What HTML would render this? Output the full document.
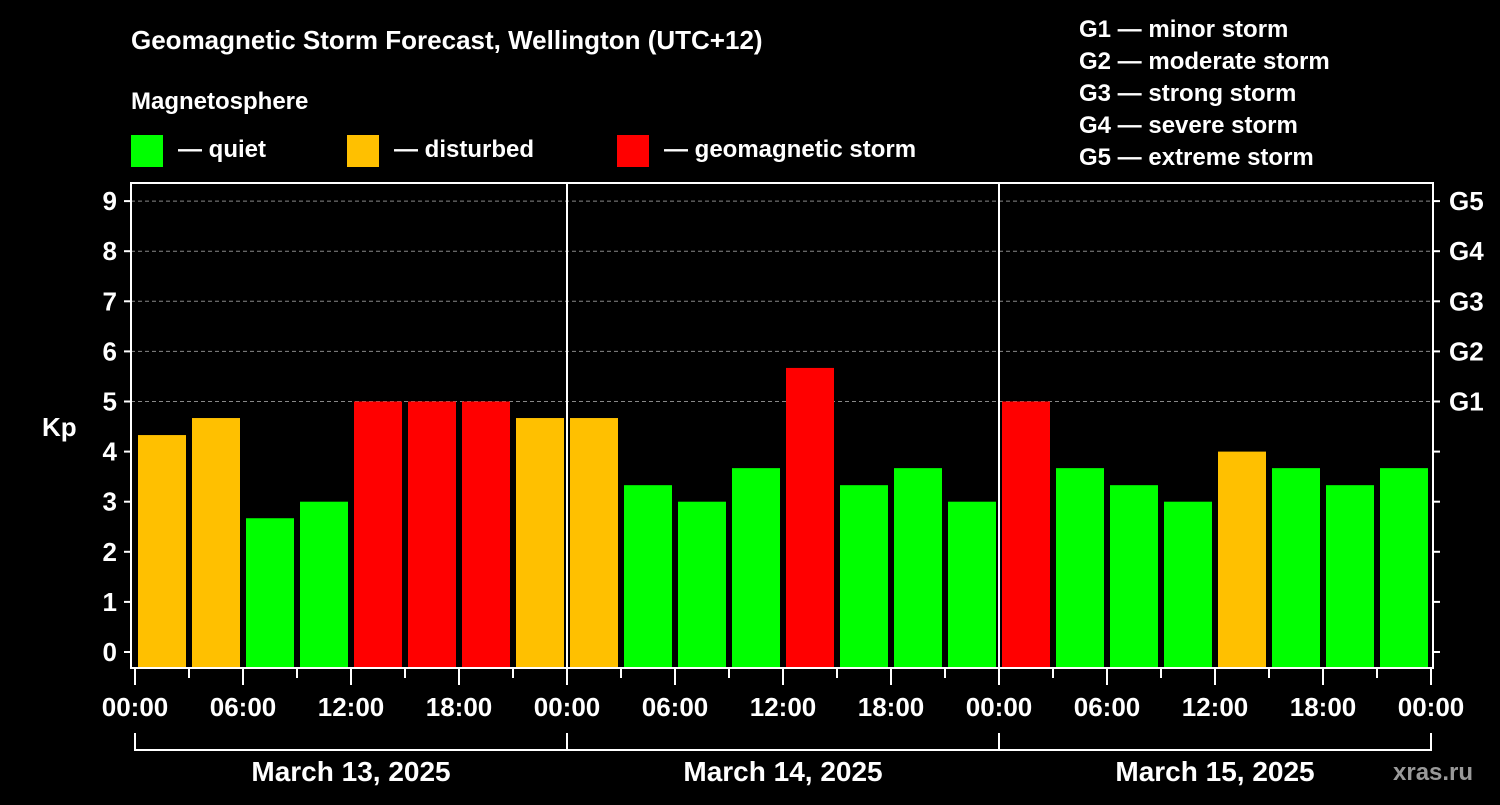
<!DOCTYPE html>
<html><head><meta charset="utf-8"><style>
body{margin:0;background:#000;width:1500px;height:800px;overflow:hidden}
svg text{font-family:"Liberation Sans",Arial,sans-serif;font-weight:bold;fill:#fff}
</style></head><body>
<svg id="c" width="1500" height="800" xmlns="http://www.w3.org/2000/svg">
<text x="131" y="49" font-size="26">Geomagnetic Storm Forecast, Wellington (UTC+12)</text>
<text x="131" y="109" font-size="24">Magnetosphere</text>
<g><rect x="131" y="135" width="32" height="32" fill="#00ff00"/><text x="178" y="157" font-size="24">— quiet</text></g>
<g><rect x="347" y="135" width="32" height="32" fill="#ffc000"/><text x="394" y="157" font-size="24">— disturbed</text></g>
<g><rect x="617" y="135" width="32" height="32" fill="#ff0000"/><text x="664" y="157" font-size="24">— geomagnetic storm</text></g>
<g font-size="24">
<text x="1079" y="37">G1 — minor storm</text>
<text x="1079" y="69">G2 — moderate storm</text>
<text x="1079" y="101">G3 — strong storm</text>
<text x="1079" y="133">G4 — severe storm</text>
<text x="1079" y="165">G5 — extreme storm</text>
</g>
<text x="42" y="436" font-size="26">Kp</text>
<text x="1393" y="780" font-size="24" fill="#888" style="fill:#9a9a9a">xras.ru</text>
<g id="grid"></g><g id="bars"></g><g id="axes"></g>
</svg>
<script>
const days=["March 13, 2025","March 14, 2025","March 15, 2025"];
const timeLabels=["00:00","06:00","12:00","18:00"];
const kpValues=[4.33,4.67,2.67,3,5,5,5,4.67, 4.67,3.33,3,3.67,5.67,3.33,3.67,3, 5,3.67,3.33,3,4,3.67,3.33,3.67];
const kpTicks=[0,1,2,3,4,5,6,7,8,9];
const gLabels=["G1","G2","G3","G4","G5"];
const NS="http://www.w3.org/2000/svg";
const L=131,R=1433,T=183,B=668,X0=135,DAYW=432;
const y=v=>652-v*50.1;
const x=h=>X0+h*DAYW/24;
function mk(tag,attrs,parent,txt){const e=document.createElementNS(NS,tag);for(const k in attrs)e.setAttribute(k,attrs[k]);if(txt!==undefined)e.textContent=txt;parent.appendChild(e);return e;}
const grid=document.getElementById('grid'),bars=document.getElementById('bars'),axes=document.getElementById('axes');
kpTicks.forEach(v=>{
  if(v>=5){const g=mk('line',{x1:L,x2:R,y1:y(v),y2:y(v),stroke:'#888','stroke-dasharray':'4,3','stroke-width':1},grid);
  
  }
  const t=mk('line',{x1:L-7,x2:L,y1:y(v),y2:y(v),stroke:'#fff','stroke-width':2},axes);
  
  
  const t2=mk('line',{x1:R,x2:R+7,y1:y(v),y2:y(v),stroke:'#fff','stroke-width':2},axes);
  
  
  const lb=mk('text',{x:L-14,y:y(v)+9,'font-size':26,'text-anchor':'end'},axes,v);
  
  
});
gLabels.forEach((g,i)=>{
  const lb=mk('text',{x:R+16,y:y(5+i)+9,'font-size':26},axes,g);
  
  
});
kpValues.forEach((v,i)=>{
  const c=v>=5?'#ff0000':(v>=4?'#ffc000':'#00ff00');
  const r=mk('rect',{x:x(i*3)+3,y:y(v),width:48,height:B-y(v),fill:c},bars);
  
  
});
mk('rect',{x:L,y:T,width:R-L,height:B-T,fill:'none',stroke:'#fff','stroke-width':2},axes);
for(let d=1;d<days.length;d++){
  const l=mk('line',{x1:x(d*24),x2:x(d*24),y1:T,y2:B,stroke:'#fff','stroke-width':2},axes);
  
  
}
for(let h=0;h<=days.length*24;h+=3){
  const major=h%6===0;
  const t=mk('line',{x1:x(h),x2:x(h),y1:B,y2:B+(major?17:10),stroke:'#fff','stroke-width':2},axes);
  
  
  if(major){
    const lb=mk('text',{x:x(h),y:716,'font-size':26,'text-anchor':'middle'},axes,timeLabels[(h%24)/6]);
    
    
  }
}
days.forEach((d,i)=>{
  const x1=x(i*24),x2=x((i+1)*24);
  const p=mk('path',{d:`M${x1} 733V750H${x2}V733`,stroke:'#fff','stroke-width':2,fill:'none'},axes);
  
  
  const lb=mk('text',{x:(x1+x2)/2,y:781,'font-size':28,'text-anchor':'middle'},axes,d);
  
  
});
</script>
</body></html>
